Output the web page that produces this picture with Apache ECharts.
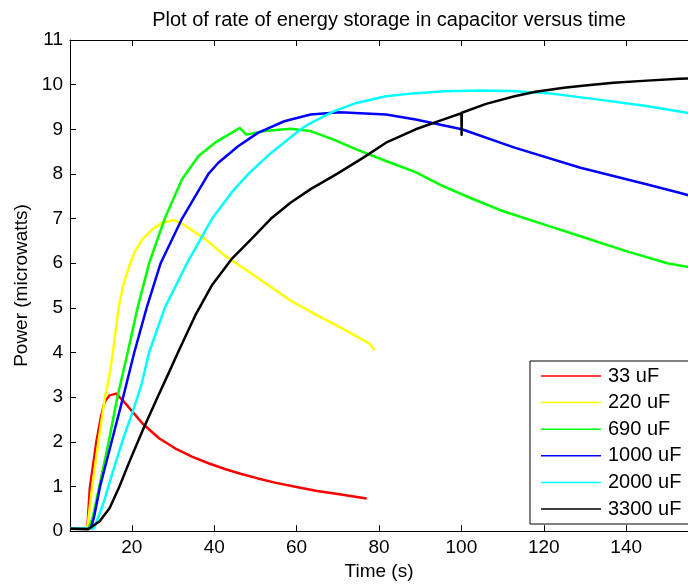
<!DOCTYPE html>
<html>
<head>
<meta charset="utf-8">
<script src="https://cdn.jsdelivr.net/npm/echarts@6/dist/echarts.min.js"></script>
<style>
html,body{margin:0;padding:0;background:#fff;}
#chart{width:688px;height:586px;}
</style>
</head>
<body>
<div id="chart"></div>
<script>
// ---- data ----
const seriesNames = ['33 uF', '220 uF', '690 uF', '1000 uF', '2000 uF', '3300 uF'];
const seriesColors = ['#ff0000', '#ffff00', '#00ff00', '#0000ff', '#00ffff', '#000000'];
const xTicks = [20, 40, 60, 80, 100, 120, 140];
const yTicks = [0, 1, 2, 3, 4, 5, 6, 7, 8, 9, 10, 11];

const t33 = [5, 9.2, 9.8, 10.6, 11.4, 12.6, 13.4, 14.6, 16.2, 17.8, 20.2, 22.6, 26.6, 30.6, 34.6, 38.6, 42.6, 46.6, 50.6, 55, 60, 65, 70, 77];
const p33 = [0.05, 0.05, 0.96, 1.48, 2.0, 2.6, 2.89, 3.04, 3.08, 2.93, 2.67, 2.41, 2.08, 1.85, 1.67, 1.52, 1.39, 1.28, 1.18, 1.08, 0.99, 0.9, 0.83, 0.73];

const t220 = [5, 9.2, 10.4, 11.9, 13.5, 14.6, 15.4, 16.8, 17.9, 19.6, 21.0, 22.6, 25.0, 27.4, 30.2, 33.0, 37.8, 42.6, 47.4, 52.2, 58.6, 65.0, 71.3, 77.7, 78.9];
const p220 = [0.05, 0.05, 1.0, 2.0, 3.0, 3.5, 4.0, 5.0, 5.5, 6.0, 6.3, 6.54, 6.76, 6.91, 6.97, 6.84, 6.54, 6.17, 5.87, 5.57, 5.16, 4.83, 4.53, 4.2, 4.05];

const t690 = [5, 9.4, 10.5, 12.1, 14.4, 16.5, 19.0, 21.4, 24.2, 28.0, 32.2, 36.2, 40.2, 44.2, 46.2, 47.8, 52.2, 58.6, 63.4, 69.0, 74.5, 81.7, 88.9, 95, 102.5, 110, 120, 130, 140, 150, 156];
const p690 = [0.05, 0.05, 0.3, 1.0, 2.0, 3.0, 4.0, 5.0, 6.0, 7.0, 7.88, 8.4, 8.7, 8.92, 9.03, 8.88, 8.96, 9.01, 8.96, 8.77, 8.55, 8.29, 8.04, 7.75, 7.45, 7.17, 6.87, 6.57, 6.27, 6.0, 5.9];

const t1000 = [5, 10, 10.8, 12.3, 15.1, 17.9, 20.6, 23.6, 27.0, 32.2, 38.6, 41.0, 45.8, 50.6, 57.0, 63.4, 70.5, 81.7, 88.9, 100.1, 112.9, 128.9, 144.9, 152.9, 156];
const p1000 = [0.05, 0.05, 0.3, 1.0, 2.0, 3.0, 4.0, 5.0, 6.0, 7.0, 8.0, 8.25, 8.62, 8.92, 9.18, 9.33, 9.38, 9.33, 9.22, 9.0, 8.59, 8.14, 7.77, 7.58, 7.5];

const t2000 = [5, 10.5, 11, 13, 15.4, 17.8, 20.2, 22.4, 24.2, 28.0, 33.4, 39.5, 44.2, 48.3, 53.8, 61.0, 63.4, 69.0, 74.5, 81.7, 88.9, 96, 104.9, 112, 120.9, 132.9, 144.9, 152.9, 156];
const p2000 = [0.05, 0.05, 0.1, 0.59, 1.33, 2.04, 2.67, 3.3, 4.0, 5.0, 6.0, 7.0, 7.58, 8.0, 8.47, 9.0, 9.14, 9.40, 9.59, 9.74, 9.81, 9.85, 9.87, 9.86, 9.81, 9.67, 9.52, 9.40, 9.35];

const t3300 = [5, 9.4, 12.2, 14.6, 17, 19.4, 22.6, 26.0, 29.0, 31.2, 35.4, 39.4, 44.2, 49.0, 53.8, 58.6, 63.4, 69.8, 76.1, 81.7, 88.9, 95, 100.0, 100.05, 100.1, 106, 112.9, 118, 124.9, 130, 136.9, 145, 152.9, 156];
const p3300 = [0.05, 0.04, 0.22, 0.51, 1.0, 1.55, 2.25, 2.95, 3.55, 4.0, 4.83, 5.5, 6.09, 6.54, 7.0, 7.36, 7.66, 8.0, 8.36, 8.7, 9.0, 9.2, 9.36, 8.88, 9.37, 9.57, 9.74, 9.84, 9.93, 9.98, 10.04, 10.09, 10.13, 10.14];

const times = [t33, t220, t690, t1000, t2000, t3300];
const powers = [p33, p220, p690, p1000, p2000, p3300];

// ---- chart ----
const FONT = '"Liberation Sans", Arial, Helvetica, sans-serif';
const chart = echarts.init(document.getElementById('chart'), null, {renderer: 'canvas'});

const series = seriesNames.map((name, i) => ({
  name: name,
  type: 'line',
  xAxisIndex: 0,
  yAxisIndex: 0,
  showSymbol: false,
  symbol: 'none',
  smooth: false,
  animation: false,
  lineStyle: {color: seriesColors[i], width: 2.5, join: 'round'},
  itemStyle: {color: seriesColors[i]},
  data: times[i].map((t, k) => [t, powers[i][k]])
}));

const option = {
  backgroundColor: '#ffffff',
  animation: false,
  title: {
    text: 'Plot of rate of energy storage in capacitor versus time',
    left: 384,
    top: 5,
    textAlign: 'center',
    textStyle: {fontFamily: FONT, fontSize: 20, fontWeight: 'normal', color: '#000'}
  },
  grid: {left: 70, top: 40, width: 627, height: 493, containLabel: false},
  legend: {
    orient: 'vertical',
    left: 530,
    top: 361,
    padding: [5, 40, 5, 11],
    itemGap: 6.6,
    itemWidth: 60,
    itemHeight: 1.5,
    icon: 'rect',
    borderColor: '#000',
    borderWidth: 1,
    backgroundColor: '#fff',
    borderRadius: 0,
    data: seriesNames,
    textStyle: {fontFamily: FONT, fontSize: 20, color: '#000', lineHeight: 20, padding: [0, 0, 0, 2]}
  },
  xAxis: [{
    type: 'value',
    min: 5,
    max: 155,
    position: 'bottom',
    name: 'Time (s)',
    nameLocation: 'middle',
    nameGap: 21,
    nameTextStyle: {fontFamily: FONT, fontSize: 19, color: '#000'},
    axisLine: {show: true, onZero: false, lineStyle: {color: '#000', width: 1}},
    axisTick: {show: true, inside: true, length: 6, customValues: xTicks, lineStyle: {color: '#000'}},
    axisLabel: {show: true, customValues: xTicks, margin: 7, fontFamily: FONT, fontSize: 19, color: '#000'},
    splitLine: {show: false}
  }, {
    type: 'value',
    min: 5,
    max: 155,
    position: 'top',
    axisLine: {show: true, onZero: false, lineStyle: {color: '#000', width: 1}},
    axisTick: {show: true, inside: true, length: 6, customValues: xTicks, lineStyle: {color: '#000'}},
    axisLabel: {show: false},
    splitLine: {show: false}
  }],
  yAxis: [{
    type: 'value',
    min: 0,
    max: 11,
    interval: 1,
    name: 'Power (microwatts)',
    nameLocation: 'middle',
    nameGap: 36,
    nameTextStyle: {fontFamily: FONT, fontSize: 19, color: '#000'},
    axisLine: {show: true, onZero: false, lineStyle: {color: '#000', width: 1}},
    axisTick: {show: true, inside: true, length: 6, lineStyle: {color: '#000'}},
    axisLabel: {show: true, margin: 7, fontFamily: FONT, fontSize: 19, color: '#000',
      formatter: v => (yTicks.indexOf(v) >= 0 ? String(v) : '')},
    splitLine: {show: false}
  }],
  series: series
};
chart.setOption(option);
</script>
</body>
</html>
